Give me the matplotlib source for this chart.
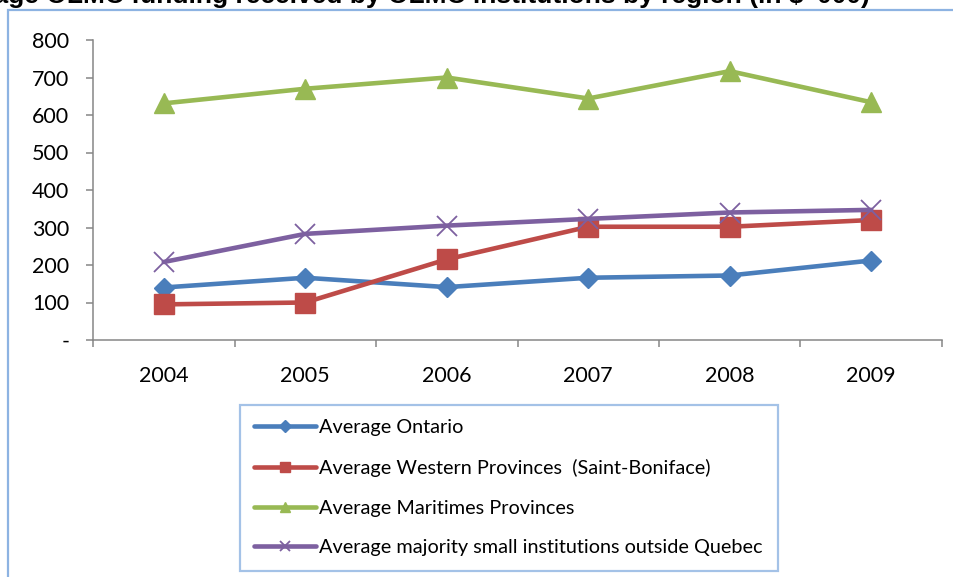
import numpy as np
import matplotlib
matplotlib.use("Agg")
import matplotlib.pyplot as plt
from matplotlib.patches import Rectangle

years = ["2004", "2005", "2006", "2007", "2008", "2009"]
ontario = [140, 166, 141, 166, 172, 212]
western = [95, 100, 215, 302, 302, 320]
maritimes = [631, 670, 700, 644, 717, 634]
small_outside_qc = [208, 283, 305, 323, 340, 347]

labels = ["Average Ontario",
          "Average Western Provinces  (Saint-Boniface)",
          "Average Maritimes Provinces",
          "Average majority small institutions outside Quebec"]
title = "Average OLMC funding received by OLMC institutions by region (in $ '000)"

plt.rcParams['font.family'] = ['Lato', 'DejaVu Sans']

W, H = 954, 577
fig = plt.figure(figsize=(W / 100, H / 100), dpi=100)

# chart frame (cut off at the right and bottom)
fig.patches.append(Rectangle((8 / W, -0.05), 1.0, 1 - 10 / H + 0.05,
                             transform=fig.transFigure, fill=False,
                             edgecolor='#8DB3E2', linewidth=1.6))

# title, partly clipped at the top edge like in the source image
fig.text(870 / W, 1 - 3 / H, title, ha='right', va='baseline',
         fontsize=19, fontweight='bold', family='Liberation Sans')

ax = fig.add_axes([93 / W, 1 - 340 / H, 849 / W, 300 / H])
x = np.arange(len(years))
styles = [
    (ontario, '#4A7EBB', 'D', 10.5, {}),
    (western, '#BE4B48', 's', 14, {}),
    (maritimes, '#98B954', '^', 14, {}),
    (small_outside_qc, '#7D60A0', 'x', 14, {'markeredgewidth': 1.3}),
]
for (vals, col, mk, ms, extra), lab in zip(styles, labels):
    ax.plot(x, vals, color=col, lw=3.3, marker=mk, ms=ms, label=lab,
            solid_capstyle='round', **extra)

ax.set_xlim(-0.5, len(years) - 0.5)
ax.set_ylim(0, 800)
ax.set_yticks(np.arange(0, 801, 100))
ax.set_yticklabels(['-'] + [str(v) for v in range(100, 801, 100)])
ax.set_xticks(x)
ax.set_xticklabels(years)
ax.set_xticks(np.arange(-0.5, len(years)), minor=True)

for s in ['top', 'right']:
    ax.spines[s].set_visible(False)
for s in ['left', 'bottom']:
    ax.spines[s].set_color('#868686')
    ax.spines[s].set_linewidth(1.1)

ax.tick_params(axis='y', length=5, width=1.1, color='#868686', pad=12,
               labelsize=15.5)
ax.tick_params(axis='x', which='major', length=0, pad=19, labelsize=15.5)
ax.tick_params(axis='x', which='minor', length=5, width=1.1, color='#868686')

leg = ax.legend(loc='upper left', mode='expand',
                bbox_to_anchor=(240 / W, 5 / H, 538 / W, 167 / H),
                bbox_transform=fig.transFigure, fontsize=14.3,
                handlelength=3.1, handletextpad=0.15, labelspacing=1.14,
                borderpad=0.72, borderaxespad=0, markerscale=0.55,
                fancybox=False)
leg.get_frame().set_edgecolor('#8DB3E2')
leg.get_frame().set_linewidth(1.6)

fig.savefig('out.png', dpi=100)
